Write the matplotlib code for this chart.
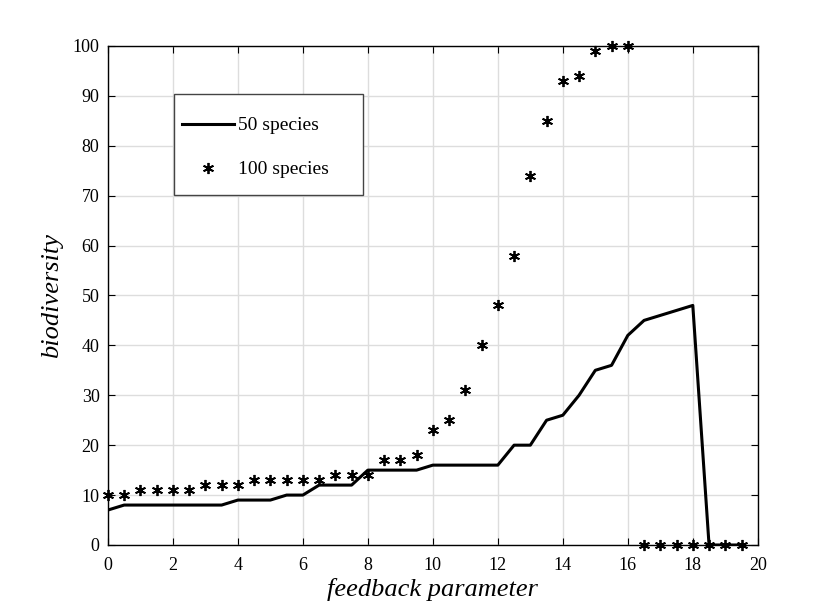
import matplotlib
matplotlib.use("Agg")
import matplotlib.pyplot as plt
from matplotlib.patches import Rectangle

x_vals = [i * 0.5 for i in range(40)]
species50 = [7, 8, 8, 8, 8, 8, 8, 8, 9, 9, 9, 10, 10, 12, 12, 12, 15, 15, 15, 15,
             16, 16, 16, 16, 16, 20, 20, 25, 26, 30, 35, 36, 42, 45, 46, 47, 48, 0, 0, 0]
species100 = [10, 10, 11, 11, 11, 11, 12, 12, 12, 13, 13, 13, 13, 13, 14, 14, 14, 17, 17, 18,
              23, 25, 31, 40, 48, 58, 74, 85, 93, 94, 99, 100, 100, 0, 0, 0, 0, 0, 0, 0]
xticks = list(range(0, 21, 2))
yticks = list(range(0, 101, 10))

plt.rcParams['font.family'] = ['Liberation Serif', 'DejaVu Serif']
plt.rcParams['mathtext.fontset'] = 'stix'

fig = plt.figure(figsize=(8.3, 6.12), dpi=100)
ax = fig.add_axes([0.130, 0.1095, 0.783, 0.8155])

ax.plot(x_vals, species50, color='black', linewidth=2.2, label='50 species', zorder=3)
ax.plot(x_vals, species100, linestyle='none', marker=(6, 2, 0), markersize=8,
        markeredgewidth=1.3, color='black', label='100 species', zorder=4, clip_on=False)

ax.set_xlim(0, 20)
ax.set_ylim(0, 100)
ax.set_xticks(xticks)
ax.set_yticks(yticks)
ax.tick_params(direction='in', top=True, right=True, length=5, width=0.8,
               labelsize=13, colors='black')
ax.tick_params(axis='y', pad=6)
ax.tick_params(axis='x', pad=8.5)
ax.grid(True, color='#dddddd', linewidth=1.0)
ax.set_axisbelow(True)
for s in ax.spines.values():
    s.set_linewidth(1.0)
    s.set_color('black')

ax.set_xlabel('feedback parameter', fontsize=19, style='italic', labelpad=3)
ax.set_ylabel('biodiversity', fontsize=19, style='italic', labelpad=7)

# legend box (MATLAB style, wider than its content)
ax.add_patch(Rectangle((0.1015, 0.701), 0.2905, 0.203, transform=ax.transAxes,
                       facecolor='white', edgecolor='#444444', linewidth=1.0, zorder=5))
leg = ax.legend(loc='upper left', bbox_to_anchor=(0.1138, 0.858), fontsize=14,
                frameon=False, handlelength=2.68, handletextpad=0.2, borderpad=0,
                labelspacing=1.36, borderaxespad=0)
leg.set_zorder(6)

fig.savefig('out.png', dpi=100)
